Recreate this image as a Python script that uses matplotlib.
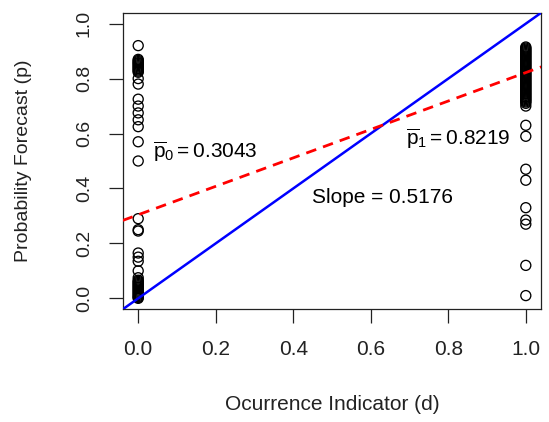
import matplotlib
matplotlib.use("Agg")
import matplotlib.pyplot as plt

plt.rcParams['font.family'] = ['Liberation Sans', 'DejaVu Sans']
plt.rcParams['mathtext.fontset'] = 'custom'
plt.rcParams['mathtext.rm'] = 'Liberation Sans'
plt.rcParams['mathtext.it'] = 'Liberation Sans:italic'

# forecasts when the event did not occur (d = 0)
p_d0 = [0.92, 0.87, 0.866, 0.862, 0.858, 0.855, 0.851, 0.847, 0.843, 0.839,
        0.835, 0.831, 0.827, 0.823, 0.80, 0.78, 0.725, 0.70, 0.675, 0.65,
        0.625, 0.57, 0.50, 0.29, 0.25, 0.245, 0.165, 0.15, 0.135, 0.10,
        0.075, 0.066, 0.062, 0.058, 0.054, 0.05, 0.046, 0.042, 0.038, 0.034,
        0.03, 0.026, 0.022, 0.018, 0.014, 0.01, 0.006, 0.003, 0.0]

# forecasts when the event occurred (d = 1)
p_d1 = [0.915, 0.911, 0.907, 0.903, 0.899, 0.895, 0.891, 0.887, 0.883, 0.879,
        0.875, 0.871, 0.867, 0.863, 0.859, 0.855, 0.851, 0.847, 0.843, 0.839,
        0.835, 0.831, 0.827, 0.823, 0.819, 0.815, 0.811, 0.807, 0.803, 0.799,
        0.795, 0.791, 0.787, 0.783, 0.779, 0.775, 0.771, 0.767, 0.763, 0.759,
        0.755, 0.751, 0.747, 0.743, 0.739, 0.735, 0.731, 0.727, 0.723, 0.719,
        0.715, 0.71, 0.70,
        0.63, 0.59, 0.47, 0.43, 0.33, 0.285, 0.27, 0.12, 0.01]

p0_mean = 0.3043
p1_mean = 0.8219
slope = 0.5176

fig = plt.figure(figsize=(5.49, 4.22), dpi=100)
ax = fig.add_axes([0.2235, 0.267, 0.7625, 0.703])

ax.scatter([0] * len(p_d0), p_d0, s=52, facecolors='none', edgecolors='black',
           linewidths=0.95, zorder=2)
ax.scatter([1] * len(p_d1), p_d1, s=52, facecolors='none', edgecolors='black',
           linewidths=0.95, zorder=2)

ax.axline((0, 0), slope=1, color='blue', lw=1.8, zorder=3)
ax.axline((0, p0_mean), slope=slope, color='red', lw=2,
          linestyle=(0, (3.8, 2.6)), zorder=4)

ax.text(0.038, 0.51, r'$\overline{\mathrm{p}}_{0} = 0.3043$', fontsize=15,
        va='baseline')
ax.text(0.691, 0.558, r'$\overline{\mathrm{p}}_{1} = 0.8219$', fontsize=15,
        va='baseline')
ax.text(0.448, 0.348, 'Slope = 0.5176', fontsize=15, va='baseline')

ax.set_xlim(-0.04, 1.04)
ax.set_ylim(-0.04, 1.04)
ticks = [0.0, 0.2, 0.4, 0.6, 0.8, 1.0]
ax.set_xticks(ticks)
ax.set_yticks(ticks)
ax.set_xticklabels(['%.1f' % t for t in ticks])
ax.set_yticklabels(['%.1f' % t for t in ticks], rotation=90, va='center')
ax.tick_params(axis='x', length=10, width=0.9, pad=12, labelsize=15,
               colors='#222222')
ax.tick_params(axis='y', length=10, width=0.9, pad=11.5, labelsize=14,
               colors='#222222')
for sp in ax.spines.values():
    sp.set_linewidth(0.9)
    sp.set_color('#222222')

ax.set_xlabel('Ocurrence Indicator (d)', fontsize=15, color='#222222')
ax.set_ylabel('Probability Forecast (p)', fontsize=14, color='#222222')
ax.xaxis.set_label_coords(0.5, -0.289)
ax.yaxis.set_label_coords(-0.2167, 0.5)

fig.savefig('out.png', dpi=100)
